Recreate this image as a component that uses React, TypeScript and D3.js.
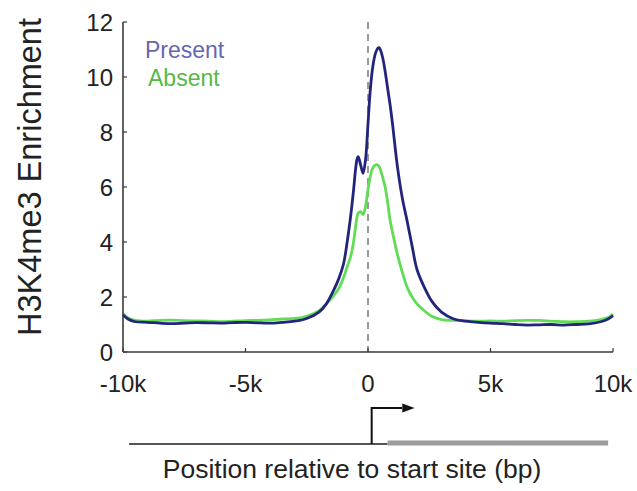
import React from "react";
import * as d3 from "d3";

const positions = [-10000,-9800,-9500,-9000,-8500,-8000,-7500,-7000,-6500,-6000,-5500,-5000,-4500,-4000,-3500,-3000,-2500,-2000,-1700,-1400,-1200,-1000,-850,-700,-600,-500,-450,-400,-300,-200,-100,0,100,200,300,400,450,500,600,700,800,900,1000,1200,1400,1600,1800,2000,2300,2600,3000,3500,4000,4500,5000,5500,6000,6500,7000,7500,8000,8500,9000,9500,9800,10000];

const presentValues = [1.35,1.2,1.1,1.08,1.05,1.03,1.05,1.07,1.06,1.05,1.07,1.08,1.06,1.05,1.08,1.12,1.22,1.45,1.75,2.25,2.65,3.2,4.0,5.0,5.8,6.7,7.0,7.1,6.8,6.5,7.0,8.3,9.6,10.4,10.85,11.05,11.07,11.0,10.7,10.2,9.6,9.0,8.3,6.75,5.6,4.75,3.85,3.0,2.35,1.85,1.45,1.2,1.12,1.08,1.05,1.03,1.0,0.98,0.99,1.0,0.98,1.0,1.02,1.1,1.2,1.32];

const absentValues = [1.4,1.25,1.15,1.12,1.15,1.16,1.14,1.13,1.12,1.1,1.12,1.14,1.15,1.17,1.2,1.22,1.3,1.5,1.75,2.05,2.3,2.7,3.1,3.5,3.95,4.6,4.9,5.05,5.1,5.0,5.3,5.9,6.4,6.7,6.8,6.8,6.75,6.65,6.35,6.0,5.45,4.8,4.35,3.55,2.9,2.35,2.0,1.75,1.5,1.3,1.18,1.15,1.13,1.12,1.13,1.12,1.14,1.15,1.15,1.12,1.1,1.1,1.12,1.18,1.25,1.38];

const yTicks = [0, 2, 4, 6, 8, 10, 12];
const xTicks = [-10000, -5000, 0, 5000, 10000];
const xTickLabels = ["-10k", "-5k", "0", "5k", "10k"];

const seriesNames = ["Present", "Absent"];
const lineColors = ["#23247c", "#62dc55"];
const legendColors = ["#6666b4", "#55b947"];

const FONT = "'Liberation Sans', Arial, Helvetica, sans-serif";

export default function App() {
  const x = d3.scaleLinear().domain([-10000, 10000]).range([123, 613]);
  const y = d3.scaleLinear().domain([0, 12]).range([352, 22]);

  const line = d3
    .line<number>()
    .x((_, i) => x(positions[i]))
    .y((d) => y(d))
    .curve(d3.curveCatmullRom.alpha(0.5));

  const series = [presentValues, absentValues];
  const axisColor = "#3a3a3a";
  const geneY = 444;

  return (
    <svg
      width={637}
      height={491}
      style={{ position: "absolute", left: 0, top: 0, background: "#fff" }}
      fontFamily={FONT}
    >
      <line
        x1={x(0)}
        x2={x(0)}
        y1={y(12)}
        y2={y(0)}
        stroke="#9a9a9a"
        strokeWidth={2}
        strokeDasharray="7,5"
      />

      {[1, 0].map((si) => (
        <path
          key={si}
          d={line(series[si]) || ""}
          fill="none"
          stroke={lineColors[si]}
          strokeWidth={2.8}
          strokeLinejoin="round"
        />
      ))}

      <line x1={x(-10000)} x2={x(-10000)} y1={y(12)} y2={y(0)} stroke={axisColor} strokeWidth={1.6} />
      {yTicks.map((t) => (
        <g key={t}>
          <line x1={x(-10000)} x2={x(-10000) + 4} y1={y(t)} y2={y(t)} stroke={axisColor} strokeWidth={1.2} />
          <text x={113} y={y(t)} dy="0.36em" textAnchor="end" fontSize={24} fill="#222">
            {t}
          </text>
        </g>
      ))}

      <line x1={x(-10000)} x2={x(10000)} y1={y(0)} y2={y(0)} stroke={axisColor} strokeWidth={1.6} />
      {xTicks.map((t, i) => (
        <g key={t}>
          <line x1={x(t)} x2={x(t)} y1={y(0)} y2={y(0) - 4} stroke={axisColor} strokeWidth={1.2} />
          <text x={x(t)} y={392} textAnchor="middle" fontSize={24} fill="#222">
            {xTickLabels[i]}
          </text>
        </g>
      ))}

      <text
        transform={`translate(41, 177) rotate(-90)`}
        textAnchor="middle"
        fontSize={32.5}
        fill="#222"
      >
        H3K4me3 Enrichment
      </text>

      <text x={145} y={58} fontSize={23} fill={legendColors[0]}>
        {seriesNames[0]}
      </text>
      <text x={148} y={86} fontSize={23} fill={legendColors[1]}>
        {seriesNames[1]}
      </text>

      <line x1={x(-9750)} x2={x(800)} y1={geneY} y2={geneY} stroke="#555" strokeWidth={2} />
      <line x1={x(800)} x2={x(9800)} y1={geneY - 1} y2={geneY - 1} stroke="#9c9c9c" strokeWidth={5} />
      <path d={`M${x(150)},${geneY} V408 H${x(1400)}`} fill="none" stroke="#111" strokeWidth={2} />
      <path d={`M${x(1400)},403.5 L${x(1900)},408 L${x(1400)},412.5 Z`} fill="#111" />

      <text x={352} y={478} textAnchor="middle" fontSize={26.5} fill="#222">
        Position relative to start site (bp)
      </text>
    </svg>
  );
}
